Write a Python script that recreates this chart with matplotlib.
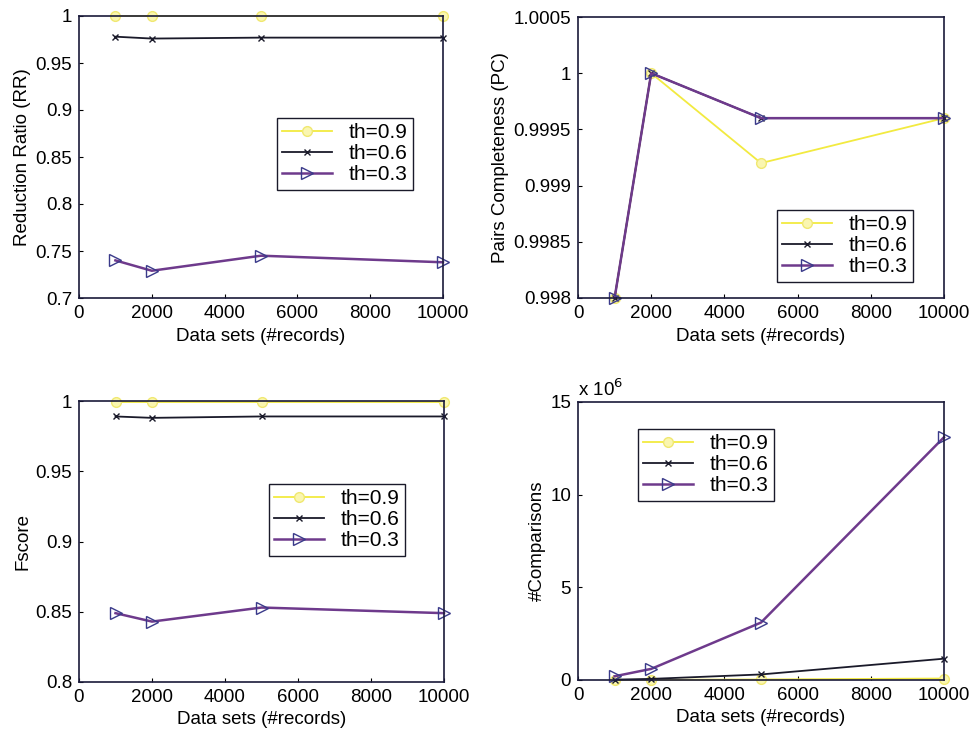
import matplotlib
matplotlib.use("Agg")
import matplotlib.pyplot as plt
from matplotlib.ticker import FuncFormatter

plt.rcParams['font.family'] = ['Liberation Sans', 'DejaVu Sans']
plt.rcParams['font.size'] = 13.5

# data sets sizes
records = [1000, 2000, 5000, 10000]
labels = ['th=0.9', 'th=0.6', 'th=0.3']

# reduction ratio
rr_09 = [0.9995, 0.9995, 0.9995, 0.9995]
rr_06 = [0.978, 0.976, 0.977, 0.977]
rr_03 = [0.740, 0.729, 0.745, 0.738]

# pairs completeness
pc_09 = [0.998, 1.0, 0.9992, 0.9996]
pc_06 = [0.998, 1.0, 0.9996, 0.9996]
pc_03 = [0.998, 1.0, 0.9996, 0.9996]

# fscore
fs_09 = [0.9995, 0.9995, 0.9995, 0.9995]
fs_06 = [0.989, 0.988, 0.989, 0.989]
fs_03 = [0.849, 0.843, 0.853, 0.849]

# comparisons (x 10^6)
cmp_09 = [0.005, 0.01, 0.03, 0.08]
cmp_06 = [0.02, 0.06, 0.30, 1.15]
cmp_03 = [0.20, 0.60, 3.10, 13.1]

# estilos tipo matlab
styles = [
    dict(color='#f2ea40', marker='o', markersize=7, mfc='#faf6b0', mec='#f0e870', lw=1.3),
    dict(color='#1a1a2a', marker='x', markersize=5, lw=1.3),
    dict(color='#6e3a8c', marker='>', markersize=9, mfc='none', mec='#3a3a8a', mew=1.0, lw=1.8),
]

fig = plt.figure(figsize=(9.76, 7.35), dpi=100)
W, H = 976, 735
boxes = [(79, 16, 443, 298), (578, 17, 944, 298), (79, 401, 444, 682), (578, 402, 944, 680)]
axs = [fig.add_axes([l / W, 1 - b / H, (r - l) / W, (b - t) / H]) for l, t, r, b in boxes]

# esquina superior izquierda de cada leyenda, en pixeles
leg_pos = [(277, 118), (777, 210), (269, 484), (638, 429)]

panels = [
    (axs[0], [rr_09, rr_06, rr_03], 'Reduction Ratio (RR)', (0.7, 1.0), [0.7, 0.75, 0.8, 0.85, 0.9, 0.95, 1.0]),
    (axs[1], [pc_09, pc_06, pc_03], 'Pairs Completeness (PC)', (0.998, 1.0005), [0.998, 0.9985, 0.999, 0.9995, 1.0, 1.0005]),
    (axs[2], [fs_09, fs_06, fs_03], 'Fscore', (0.8, 1.0), [0.8, 0.85, 0.9, 0.95, 1.0]),
    (axs[3], [cmp_09, cmp_06, cmp_03], '#Comparisons', (0, 15), [0, 5, 10, 15]),
]

for (ax, series, ylab, ylim, yt), (lx, ly) in zip(panels, leg_pos):
    for vals, st, lab in zip(series, styles, labels):
        ax.plot(records, vals, label=lab, clip_on=False, **st)
    ax.set_xlim(0, 10000)
    ax.set_ylim(*ylim)
    ax.set_xticks(range(0, 10001, 2000))
    ax.set_yticks(yt)
    ax.yaxis.set_major_formatter(FuncFormatter(lambda v, p: f'{v:g}'))
    ax.set_xlabel('Data sets (#records)', labelpad=4)
    ax.set_ylabel(ylab, labelpad=3)
    ax.tick_params(direction='in', length=3, pad=5)
    for s in ax.spines.values():
        s.set_color('#1a1a3a')
        s.set_linewidth(1.2)
    leg = ax.legend(loc='upper left', bbox_to_anchor=(lx / W, 1 - ly / H),
                    bbox_transform=fig.transFigure, fancybox=False, framealpha=1,
                    edgecolor='#1a1a2a', fontsize=15, handlelength=2.4, borderpad=0.25,
                    labelspacing=0.1, handletextpad=0.8, borderaxespad=0)
    leg.get_frame().set_linewidth(1.0)

axs[3].text(0.0, 1.02, r'x 10$^6$', transform=axs[3].transAxes, fontsize=13.5)

fig.savefig('out.png', dpi=100)
